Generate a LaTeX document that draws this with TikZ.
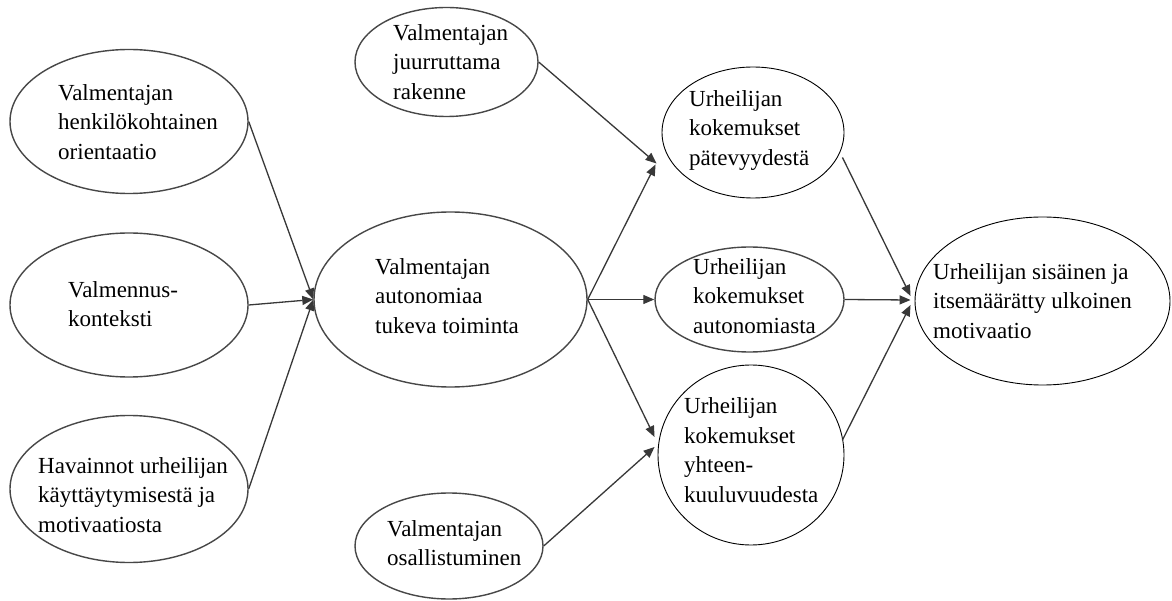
\documentclass[tikz,border=0pt]{standalone}
\usepackage{fontspec}
\setmainfont{Liberation Serif}
\usetikzlibrary{arrows.meta,shapes.geometric}
\begin{document}
\begin{tikzpicture}[x=1pt,y=-1pt,
  ov/.style={ellipse, draw=black!72, line width=1.4pt, inner sep=0pt},
  ovk/.style={ellipse, draw=black, line width=0.9pt, inner sep=0pt},
  lab/.style={anchor=west, align=left, inner sep=0pt, font=\fontsize{23}{29.5}\selectfont},
  arr/.style={draw=black!78, line width=1.3pt, -{Triangle[length=11pt,width=9pt]}}]
\fill[white] (0,0) rectangle (1172,601);
\useasboundingbox (0,0) rectangle (1172,601);

% ellipses
\node[ov, minimum width=238pt, minimum height=144pt] (e1) at (129,121.5) {};
\node[ov, minimum width=238pt, minimum height=144pt] (e2) at (129,305) {};
\node[ov, minimum width=238pt, minimum height=147pt] (e3) at (129,489) {};
\node[ov, minimum width=273pt, minimum height=175pt] (ec) at (450.5,299.5) {};
\node[ov, minimum width=183pt, minimum height=109pt] (e5) at (446.5,62) {};
\node[ov, minimum width=188pt, minimum height=106pt] (e6) at (449,546) {};
\node[ovk, minimum width=182pt, minimum height=131pt] (e7) at (753,132.5) {};
\node[ov, minimum width=189pt, minimum height=105pt] (e8) at (749.5,299.5) {};
\node[ovk, minimum width=186pt, minimum height=180pt] (e9) at (751,455) {};
\node[ovk, minimum width=255pt, minimum height=168pt] (e10) at (1042.5,301) {};

% texts
\node[lab] (t1) at (58,124) {\strut Valmentajan\\\strut henkilökohtainen\\\strut orientaatio};
\node[lab] (t2) at (68,306) {\strut Valmennus-\\\strut konteksti};
\node[lab] (t3) at (38,497) {\strut Havainnot urheilijan\\\strut käyttäytymisestä ja\\\strut motivaatiosta};
\node[lab] (tc) at (375,298) {\strut Valmentajan\\\strut autonomiaa\\\strut tukeva toiminta};
\node[lab] (t5) at (393,64) {\strut Valmentajan\\\strut juurruttama\\\strut rakenne};
\node[lab] (t6) at (387,545) {\strut Valmentajan\\\strut osallistuminen};
\node[lab] (t7) at (689,130) {\strut Urheilijan\\\strut kokemukset\\\strut pätevyydestä};
\node[lab] (t8) at (693,298) {\strut Urheilijan\\\strut kokemukset\\\strut autonomiasta};
\node[lab] (t9) at (684,452) {\strut Urheilijan\\\strut kokemukset\\\strut yhteen-\\\strut kuuluvuudesta};
\node[lab] (t10) at (933,303) {\strut Urheilijan sisäinen ja\\\strut itsemäärätty ulkoinen\\\strut motivaatio};

% connectors
\draw[arr] (e1.east) -- (ec.west);
\draw[arr] (e2.east) -- (ec.west);
\draw[arr] (e3.east) -- (ec.west);
\draw[arr] (e5.east) -- ([shift={(-5,31)}]e7.west);
\draw[arr] (ec.east) -- ([shift={(-6,32)}]e7.west);
\draw[arr] (ec.east) -- (e8.west);
\draw[arr] (ec.east) -- ([shift={(-3,-18)}]e9.west);
\draw[arr] (e6.east) -- ([shift={(-3,-8)}]e9.west);
\draw[arr] ([shift={(-2,25)}]e7.east) -- ([shift={(-4,-5)}]e10.west);
\draw[arr] (e8.east) -- ([shift={(-4,-1)}]e10.west);
\draw[arr] ([shift={(-2,-15)}]e9.east) -- ([shift={(-4,4)}]e10.west);
\end{tikzpicture}
\end{document}
